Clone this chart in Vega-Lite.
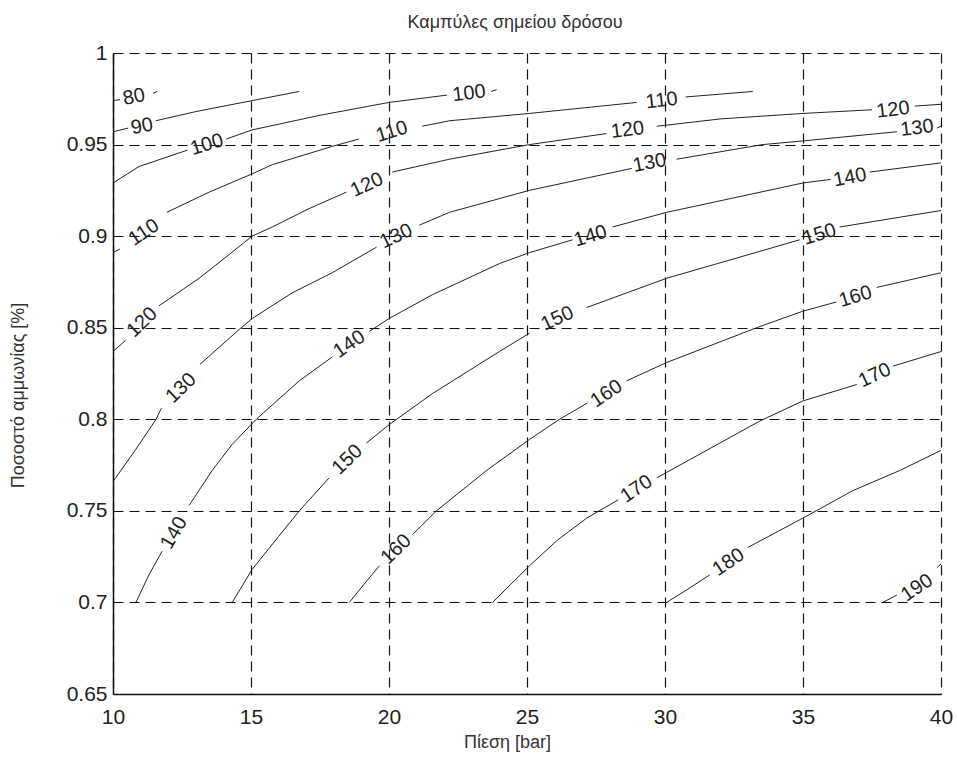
{
  "$schema": "https://vega.github.io/schema/vega-lite/v6.json",
  "width": 828,
  "height": 641,
  "autosize": {"type": "none"},
  "padding": {"left": 113, "top": 53, "right": 16, "bottom": 64},
  "background": "white",
  "config": {"view": {"stroke": null}, "font": "Liberation Sans"},
  "title": {"text": "Καμπύλες σημείου δρόσου", "fontSize": 18, "font": "Liberation Sans", "fontWeight": "normal", "color": "#333", "offset": 10, "dx": -12},
  "datasets": {
    "lines": [
      {"seg": "80a", "P": 10, "frac": 0.974}, {"seg": "80a", "P": 10.25, "frac": 0.9745},
      {"seg": "80b", "P": 11.45, "frac": 0.978}, {"seg": "80b", "P": 11.6, "frac": 0.979},
      {"seg": "90a", "P": 10, "frac": 0.957}, {"seg": "90a", "P": 10.55, "frac": 0.959},
      {"seg": "90b", "P": 11.55, "frac": 0.963}, {"seg": "90b", "P": 13.0, "frac": 0.968}, {"seg": "90b", "P": 15.04, "frac": 0.974}, {"seg": "90b", "P": 16.75, "frac": 0.979},
      {"seg": "100a", "P": 10, "frac": 0.929}, {"seg": "100a", "P": 10.94, "frac": 0.938}, {"seg": "100a", "P": 11.92, "frac": 0.943}, {"seg": "100a", "P": 12.7, "frac": 0.947},
      {"seg": "100b", "P": 14.1, "frac": 0.953}, {"seg": "100b", "P": 15.04, "frac": 0.958}, {"seg": "100b", "P": 17.5, "frac": 0.966}, {"seg": "100b", "P": 20.0, "frac": 0.973}, {"seg": "100b", "P": 22.1, "frac": 0.977},
      {"seg": "100c", "P": 23.7, "frac": 0.979}, {"seg": "100c", "P": 23.9, "frac": 0.98},
      {"seg": "110a", "P": 10, "frac": 0.891}, {"seg": "110a", "P": 10.25, "frac": 0.893},
      {"seg": "110b", "P": 11.95, "frac": 0.913}, {"seg": "110b", "P": 13.48, "frac": 0.924}, {"seg": "110b", "P": 15.04, "frac": 0.934}, {"seg": "110b", "P": 15.77, "frac": 0.939}, {"seg": "110b", "P": 17.94, "frac": 0.949}, {"seg": "110b", "P": 18.9, "frac": 0.953},
      {"seg": "110c", "P": 21.2, "frac": 0.96}, {"seg": "110c", "P": 22.19, "frac": 0.963}, {"seg": "110c", "P": 25.09, "frac": 0.967}, {"seg": "110c", "P": 28.97, "frac": 0.973},
      {"seg": "110d", "P": 30.75, "frac": 0.976}, {"seg": "110d", "P": 33.18, "frac": 0.979},
      {"seg": "120a", "P": 10, "frac": 0.837}, {"seg": "120a", "P": 10.45, "frac": 0.843},
      {"seg": "120b", "P": 11.67, "frac": 0.862}, {"seg": "120b", "P": 13.12, "frac": 0.877}, {"seg": "120b", "P": 14.13, "frac": 0.889}, {"seg": "120b", "P": 15.04, "frac": 0.9}, {"seg": "120b", "P": 15.77, "frac": 0.905}, {"seg": "120b", "P": 17.1, "frac": 0.915}, {"seg": "120b", "P": 18.45, "frac": 0.924},
      {"seg": "120c", "P": 20.12, "frac": 0.935}, {"seg": "120c", "P": 22.19, "frac": 0.942}, {"seg": "120c", "P": 25.09, "frac": 0.95}, {"seg": "120c", "P": 27.88, "frac": 0.956},
      {"seg": "120d", "P": 29.7, "frac": 0.96}, {"seg": "120d", "P": 32.0, "frac": 0.964}, {"seg": "120d", "P": 35.0, "frac": 0.967}, {"seg": "120d", "P": 37.5, "frac": 0.969},
      {"seg": "120e", "P": 39.05, "frac": 0.971}, {"seg": "120e", "P": 40, "frac": 0.972},
      {"seg": "130a", "P": 10, "frac": 0.766}, {"seg": "130a", "P": 10.8, "frac": 0.783}, {"seg": "130a", "P": 11.56, "frac": 0.8}, {"seg": "130a", "P": 11.75, "frac": 0.806},
      {"seg": "130b", "P": 13.15, "frac": 0.83}, {"seg": "130b", "P": 14.57, "frac": 0.849}, {"seg": "130b", "P": 15.04, "frac": 0.855}, {"seg": "130b", "P": 16.49, "frac": 0.869}, {"seg": "130b", "P": 17.94, "frac": 0.88}, {"seg": "130b", "P": 19.55, "frac": 0.894},
      {"seg": "130c", "P": 21.1, "frac": 0.906}, {"seg": "130c", "P": 22.19, "frac": 0.913}, {"seg": "130c", "P": 25.09, "frac": 0.925}, {"seg": "130c", "P": 28.8, "frac": 0.937},
      {"seg": "130d", "P": 30.42, "frac": 0.942}, {"seg": "130d", "P": 33.54, "frac": 0.95}, {"seg": "130d", "P": 35.0, "frac": 0.952}, {"seg": "130d", "P": 38.4, "frac": 0.957},
      {"seg": "130e", "P": 39.85, "frac": 0.959}, {"seg": "130e", "P": 40, "frac": 0.96},
      {"seg": "140a", "P": 10.83, "frac": 0.7}, {"seg": "140a", "P": 11.3, "frac": 0.715}, {"seg": "140a", "P": 11.78, "frac": 0.728},
      {"seg": "140b", "P": 12.76, "frac": 0.753}, {"seg": "140b", "P": 13.59, "frac": 0.772}, {"seg": "140b", "P": 14.3, "frac": 0.786}, {"seg": "140b", "P": 15.19, "frac": 0.8}, {"seg": "140b", "P": 16.75, "frac": 0.821}, {"seg": "140b", "P": 17.94, "frac": 0.834},
      {"seg": "140c", "P": 19.29, "frac": 0.848}, {"seg": "140c", "P": 20.0, "frac": 0.855}, {"seg": "140c", "P": 21.57, "frac": 0.868}, {"seg": "140c", "P": 24.0, "frac": 0.885}, {"seg": "140c", "P": 25.09, "frac": 0.891}, {"seg": "140c", "P": 26.65, "frac": 0.898},
      {"seg": "140d", "P": 28.1, "frac": 0.905}, {"seg": "140d", "P": 30.06, "frac": 0.913}, {"seg": "140d", "P": 34.99, "frac": 0.929}, {"seg": "140d", "P": 36.0, "frac": 0.931},
      {"seg": "140e", "P": 37.42, "frac": 0.935}, {"seg": "140e", "P": 40, "frac": 0.94},
      {"seg": "150a", "P": 14.32, "frac": 0.7}, {"seg": "150a", "P": 15.04, "frac": 0.718}, {"seg": "150a", "P": 16.0, "frac": 0.736}, {"seg": "150a", "P": 16.75, "frac": 0.75}, {"seg": "150a", "P": 17.83, "frac": 0.768},
      {"seg": "150b", "P": 19.18, "frac": 0.787}, {"seg": "150b", "P": 20.0, "frac": 0.797}, {"seg": "150b", "P": 21.57, "frac": 0.814}, {"seg": "150b", "P": 24.0, "frac": 0.837}, {"seg": "150b", "P": 25.09, "frac": 0.847},
      {"seg": "150c", "P": 27.16, "frac": 0.861}, {"seg": "150c", "P": 30.06, "frac": 0.877}, {"seg": "150c", "P": 34.88, "frac": 0.898},
      {"seg": "150d", "P": 36.33, "frac": 0.905}, {"seg": "150d", "P": 40, "frac": 0.914},
      {"seg": "160a", "P": 18.56, "frac": 0.7}, {"seg": "160a", "P": 19.1, "frac": 0.71}, {"seg": "160a", "P": 19.65, "frac": 0.72},
      {"seg": "160b", "P": 20.85, "frac": 0.737}, {"seg": "160b", "P": 21.72, "frac": 0.75}, {"seg": "160b", "P": 23.53, "frac": 0.772}, {"seg": "160b", "P": 25.09, "frac": 0.789}, {"seg": "160b", "P": 26.18, "frac": 0.8}, {"seg": "160b", "P": 27.2, "frac": 0.809},
      {"seg": "160c", "P": 28.61, "frac": 0.821}, {"seg": "160c", "P": 30.06, "frac": 0.831}, {"seg": "160c", "P": 33.32, "frac": 0.85}, {"seg": "160c", "P": 34.99, "frac": 0.859}, {"seg": "160c", "P": 36.2, "frac": 0.864},
      {"seg": "160d", "P": 37.67, "frac": 0.872}, {"seg": "160d", "P": 40, "frac": 0.88},
      {"seg": "170a", "P": 23.75, "frac": 0.7}, {"seg": "170a", "P": 25.09, "frac": 0.72}, {"seg": "170a", "P": 26.1, "frac": 0.734}, {"seg": "170a", "P": 27.16, "frac": 0.746}, {"seg": "170a", "P": 28.3, "frac": 0.756},
      {"seg": "170b", "P": 29.7, "frac": 0.768}, {"seg": "170b", "P": 30.06, "frac": 0.771}, {"seg": "170b", "P": 33.43, "frac": 0.799}, {"seg": "170b", "P": 34.99, "frac": 0.81}, {"seg": "170b", "P": 36.95, "frac": 0.819},
      {"seg": "170c", "P": 38.26, "frac": 0.829}, {"seg": "170c", "P": 40, "frac": 0.837},
      {"seg": "180a", "P": 30.06, "frac": 0.7}, {"seg": "180a", "P": 30.8, "frac": 0.707}, {"seg": "180a", "P": 31.62, "frac": 0.715},
      {"seg": "180b", "P": 33.0, "frac": 0.73}, {"seg": "180b", "P": 34.99, "frac": 0.746}, {"seg": "180b", "P": 36.8, "frac": 0.761}, {"seg": "180b", "P": 38.5, "frac": 0.772}, {"seg": "180b", "P": 40, "frac": 0.783},
      {"seg": "190a", "P": 37.89, "frac": 0.7}, {"seg": "190a", "P": 38.4, "frac": 0.704},
      {"seg": "190b", "P": 39.85, "frac": 0.719}, {"seg": "190b", "P": 40, "frac": 0.721}
    ],
    "labels": [
      {"id": "80", "level": 80, "P": 10.76, "frac": 0.976},
      {"id": "90", "level": 90, "P": 11.05, "frac": 0.96},
      {"id": "100L", "level": 100, "P": 13.4, "frac": 0.95},
      {"id": "100R", "level": 100, "P": 22.9, "frac": 0.978},
      {"id": "110L", "level": 110, "P": 11.12, "frac": 0.902},
      {"id": "110M", "level": 110, "P": 20.1, "frac": 0.957},
      {"id": "110R", "level": 110, "P": 29.88, "frac": 0.974},
      {"id": "120L", "level": 120, "P": 11.05, "frac": 0.853},
      {"id": "120M", "level": 120, "P": 19.2, "frac": 0.928},
      {"id": "120M2", "level": 120, "P": 28.64, "frac": 0.958},
      {"id": "120R", "level": 120, "P": 38.26, "frac": 0.969},
      {"id": "130L", "level": 130, "P": 12.47, "frac": 0.817},
      {"id": "130M", "level": 130, "P": 20.26, "frac": 0.9},
      {"id": "130M2", "level": 130, "P": 29.44, "frac": 0.94},
      {"id": "130R", "level": 130, "P": 39.13, "frac": 0.959},
      {"id": "140L", "level": 140, "P": 12.21, "frac": 0.738},
      {"id": "140M", "level": 140, "P": 18.56, "frac": 0.841},
      {"id": "140M2", "level": 140, "P": 27.3, "frac": 0.9},
      {"id": "140R", "level": 140, "P": 36.7, "frac": 0.932},
      {"id": "150L", "level": 150, "P": 18.49, "frac": 0.778},
      {"id": "150M", "level": 150, "P": 26.1, "frac": 0.855},
      {"id": "150R", "level": 150, "P": 35.6, "frac": 0.901},
      {"id": "160L", "level": 160, "P": 20.26, "frac": 0.729},
      {"id": "160M", "level": 160, "P": 27.88, "frac": 0.814},
      {"id": "160R", "level": 160, "P": 36.9, "frac": 0.867},
      {"id": "170L", "level": 170, "P": 28.97, "frac": 0.762},
      {"id": "170R", "level": 170, "P": 37.6, "frac": 0.824},
      {"id": "180", "level": 180, "P": 32.3, "frac": 0.722},
      {"id": "190", "level": 190, "P": 39.13, "frac": 0.708}
    ]
  },
  "layer": [
    {
      "data": {"name": "lines"},
      "mark": {"type": "line", "stroke": "#222", "strokeWidth": 1, "interpolate": "linear"},
      "encoding": {
        "x": {"field": "P", "type": "quantitative", "scale": {"domain": [10, 40], "nice": false, "zero": false},
          "axis": {"values": [10, 15, 20, 25, 30, 35, 40], "title": "Πίεση [bar]", "titleFontSize": 18, "titleFontWeight": "normal", "titleColor": "#333", "titleX": 394, "titleY": 48, "titleBaseline": "middle",
            "labelFontSize": 21, "labelColor": "#222", "labelPadding": 12, "labelFlush": false, "ticks": false, "domainColor": "#111", "domainWidth": 1.5,
            "grid": true, "gridDash": [10, 6], "gridColor": "#111", "gridWidth": 1.2, "gridOpacity": 1}},
        "y": {"field": "frac", "type": "quantitative", "scale": {"domain": [0.65, 1], "nice": false, "zero": false},
          "axis": {"values": [0.65, 0.7, 0.75, 0.8, 0.85, 0.9, 0.95, 1], "format": "~g", "title": "Ποσοστό αμμωνίας [%]", "titleFontSize": 18, "titleFontWeight": "normal", "titleColor": "#333", "titleX": -95, "titleY": 342, "titleBaseline": "middle", "titleAngle": 270,
            "labelFontSize": 21, "labelColor": "#222", "labelPadding": 6, "labelFlush": false, "ticks": false, "domainColor": "#111", "domainWidth": 1.5,
            "grid": true, "gridDash": [10, 6], "gridColor": "#111", "gridWidth": 1.2, "gridOpacity": 1}},
        "detail": {"field": "seg"}
      }
    },
    {
      "data": {"name": "labels"},
      "transform": [{"filter": {"field": "id", "oneOf": ["100R", "110R", "120R", "130R", "120M2"]}}],
      "mark": {"type": "text", "angle": 353, "fontSize": 20, "color": "#222", "font": "Liberation Sans", "align": "center", "baseline": "middle"},
      "encoding": {"x": {"field": "P", "type": "quantitative"}, "y": {"field": "frac", "type": "quantitative"}, "text": {"field": "level"}}
    },
    {
      "data": {"name": "labels"},
      "transform": [{"filter": {"field": "id", "oneOf": ["80", "90", "130M2", "140R"]}}],
      "mark": {"type": "text", "angle": 349, "fontSize": 20, "color": "#222", "font": "Liberation Sans", "align": "center", "baseline": "middle"},
      "encoding": {"x": {"field": "P", "type": "quantitative"}, "y": {"field": "frac", "type": "quantitative"}, "text": {"field": "level"}}
    },
    {
      "data": {"name": "labels"},
      "transform": [{"filter": {"field": "id", "oneOf": ["100L", "110M", "140M2", "150R", "160R"]}}],
      "mark": {"type": "text", "angle": 343, "fontSize": 20, "color": "#222", "font": "Liberation Sans", "align": "center", "baseline": "middle"},
      "encoding": {"x": {"field": "P", "type": "quantitative"}, "y": {"field": "frac", "type": "quantitative"}, "text": {"field": "level"}}
    },
    {
      "data": {"name": "labels"},
      "transform": [{"filter": {"field": "id", "oneOf": ["120M", "150M", "130M", "170R"]}}],
      "mark": {"type": "text", "angle": 335, "fontSize": 20, "color": "#222", "font": "Liberation Sans", "align": "center", "baseline": "middle"},
      "encoding": {"x": {"field": "P", "type": "quantitative"}, "y": {"field": "frac", "type": "quantitative"}, "text": {"field": "level"}}
    },
    {
      "data": {"name": "labels"},
      "transform": [{"filter": {"field": "id", "oneOf": ["160M", "170L", "180", "140M", "110L", "190"]}}],
      "mark": {"type": "text", "angle": 326, "fontSize": 20, "color": "#222", "font": "Liberation Sans", "align": "center", "baseline": "middle"},
      "encoding": {"x": {"field": "P", "type": "quantitative"}, "y": {"field": "frac", "type": "quantitative"}, "text": {"field": "level"}}
    },
    {
      "data": {"name": "labels"},
      "transform": [{"filter": {"field": "id", "oneOf": ["120L", "130L", "150L", "160L"]}}],
      "mark": {"type": "text", "angle": 316, "fontSize": 20, "color": "#222", "font": "Liberation Sans", "align": "center", "baseline": "middle"},
      "encoding": {"x": {"field": "P", "type": "quantitative"}, "y": {"field": "frac", "type": "quantitative"}, "text": {"field": "level"}}
    },
    {
      "data": {"name": "labels"},
      "transform": [{"filter": {"field": "id", "oneOf": ["140L"]}}],
      "mark": {"type": "text", "angle": 300, "fontSize": 20, "color": "#222", "font": "Liberation Sans", "align": "center", "baseline": "middle"},
      "encoding": {"x": {"field": "P", "type": "quantitative"}, "y": {"field": "frac", "type": "quantitative"}, "text": {"field": "level"}}
    }
  ]
}
